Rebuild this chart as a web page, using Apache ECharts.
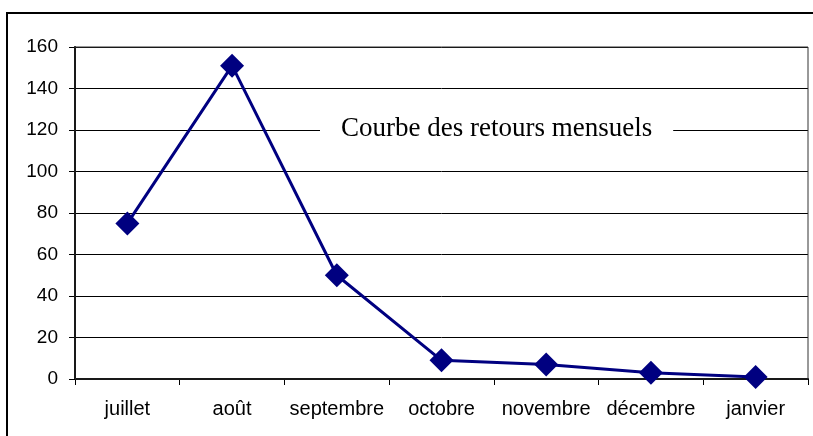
<!DOCTYPE html>
<html>
<head>
<meta charset="utf-8">
<script src="https://cdn.jsdelivr.net/npm/echarts@6/dist/echarts.min.js"></script>
<style>
  html, body { margin: 0; padding: 0; background: #fff; }
  #chart { width: 813px; height: 436px; }
</style>
</head>
<body>
<div id="chart"></div>
<script>
// Monthly returns, July to January
const months = ['juillet', 'août', 'septembre', 'octobre', 'novembre', 'décembre', 'janvier'];
const returns = [75, 151, 50, 9, 7, 3, 1];
const yTicks = { min: 0, max: 160, interval: 20 };
const chartTitle = 'Courbe des retours mensuels';

const chart = echarts.init(document.getElementById('chart'), null, { renderer: 'canvas' });

chart.setOption({
  animation: false,
  backgroundColor: '#ffffff',
  graphic: [{
    type: 'rect',
    shape: { x: 7, y: 13, width: 900, height: 500 },
    style: { fill: 'none', stroke: '#000', lineWidth: 2 },
    silent: true,
    z: 0
  }, {
    type: 'rect',
    shape: { x: 75, y: 47, width: 733, height: 332 },
    style: { fill: 'none', stroke: '#333', lineWidth: 1 },
    silent: true,
    z: 1
  }],
  title: {
    text: chartTitle,
    left: 320,
    top: 115,
    padding: [0, 21],
    backgroundColor: '#ffffff',
    textStyle: {
      fontFamily: '"Liberation Serif", "Times New Roman", serif',
      fontWeight: 'normal',
      fontSize: 27,
      color: '#000'
    },
    z: 10
  },
  grid: { left: 75, top: 47, right: 5, bottom: 57, containLabel: false },
  xAxis: {
    type: 'category',
    data: months,
    boundaryGap: true,
    axisLine: { show: true, lineStyle: { color: '#000', width: 2 } },
    axisTick: { show: true, length: 6, alignWithLabel: false, lineStyle: { color: '#000', width: 1 } },
    axisLabel: {
      interval: 0,
      hideOverlap: false,
      margin: 20,
      fontFamily: '"Liberation Sans", Arial, sans-serif',
      fontSize: 20,
      color: '#000'
    },
    splitLine: { show: false }
  },
  yAxis: {
    type: 'value',
    min: yTicks.min,
    max: yTicks.max,
    interval: yTicks.interval,
    axisLine: { show: true, lineStyle: { color: '#000', width: 2 } },
    axisTick: { show: true, length: 6, lineStyle: { color: '#000', width: 1 } },
    axisLabel: {
      margin: 17,
      fontFamily: '"Liberation Sans", Arial, sans-serif',
      fontSize: 19,
      color: '#000'
    },
    splitLine: { show: true, lineStyle: { color: '#000', width: 1 } }
  },
  series: [{
    type: 'line',
    data: returns,
    symbol: 'diamond',
    symbolSize: 24,
    showAllSymbol: true,
    lineStyle: { color: '#000080', width: 3 },
    itemStyle: { color: '#000080' },
    z: 5
  }]
});
</script>
</body>
</html>
